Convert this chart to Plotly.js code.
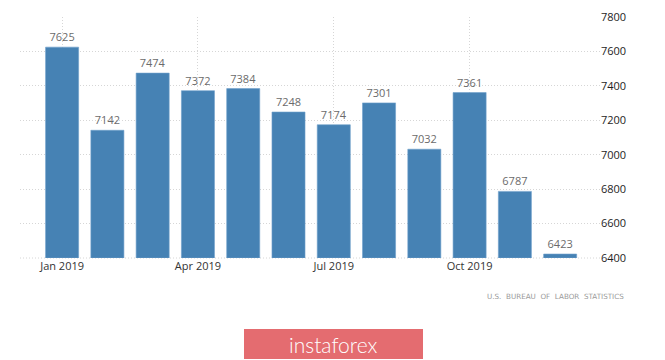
<!DOCTYPE html>
<html>
<head>
<meta charset="utf-8">
<script src="https://cdn.plot.ly/plotly-3.0.1.min.js"></script>
<style>
html,body{margin:0;padding:0;background:#fff;}
#chart{width:665px;height:360px;}
</style>
</head>
<body>
<div id="chart"></div>
<script>
const months = ["Jan 2019","Feb 2019","Mar 2019","Apr 2019","May 2019","Jun 2019","Jul 2019","Aug 2019","Sep 2019","Oct 2019","Nov 2019","Dec 2019"];
const values = [7625, 7142, 7474, 7372, 7384, 7248, 7174, 7301, 7032, 7361, 6787, 6423];
const xTickLabels = ["Jan 2019","Apr 2019","Jul 2019","Oct 2019"];
const yTicks = [6400, 6600, 6800, 7000, 7200, 7400, 7600, 7800];
const sourceText = "U.S.  BUREAU  OF  LABOR  STATISTICS";
const brandText = "instaforex";
const yBase = 6400;

const xIdx = months.map((m, i) => i);
const xTickVals = xTickLabels.map(l => months.indexOf(l));

const trace = {
  type: "bar",
  x: xIdx,
  y: values.map(v => v - yBase),
  base: yBase,
  width: 0.73,
  marker: {color: "#4682b4", line: {color: "#6f9fcb", width: 0.6}},
  text: values.map(String),
  textposition: "outside",
  textfont: {family: "Open Sans, DejaVu Sans, sans-serif", size: 11, color: "#6b6b6b"},
  cliponaxis: false,
  hoverinfo: "none"
};

const layout = {
  width: 665, height: 360,
  margin: {l: 20, r: 65, t: 17, b: 102},
  paper_bgcolor: "#ffffff",
  plot_bgcolor: "#ffffff",
  showlegend: false,
  xaxis: {
    range: [-0.93, 11.88],
    tickvals: xTickVals,
    ticktext: xTickLabels,
    showgrid: true,
    gridcolor: "#d6d6d6",
    griddash: "1px,2px",
    gridwidth: 1,
    zeroline: false,
    showline: false,
    ticks: "",
    tickfont: {family: "Open Sans, DejaVu Sans, sans-serif", size: 11, color: "#333333"},
    fixedrange: true
  },
  yaxis: {
    side: "right",
    range: [6400, 7800],
    tickvals: yTicks,
    ticktext: yTicks.map(String),
    showgrid: true,
    gridcolor: "#d6d6d6",
    griddash: "1px,2px",
    gridwidth: 1,
    zeroline: false,
    showline: false,
    ticks: "",
    tickfont: {family: "Open Sans, DejaVu Sans, sans-serif", size: 11, color: "#1e1e1e"},
    fixedrange: true
  },
  shapes: [
    {type: "line", xref: "paper", yref: "paper", x0: 0, x1: 1, y0: 0, y1: 0,
     line: {color: "#d6d6d6", width: 1, dash: "1px,2px"}, layer: "below"},
    {type: "rect", xref: "paper", yref: "paper",
     x0: (244-20)/580, x1: (423-20)/580, y0: (258-359)/241, y1: (258-329)/241,
     fillcolor: "#e46c70", line: {width: 0}}
  ],
  annotations: [
    {xref: "paper", yref: "paper", x: (626-20)/580, y: (258-296)/241,
     xanchor: "right", yanchor: "middle", showarrow: false,
     text: sourceText,
     font: {family: "DejaVu Sans, sans-serif", size: 7.2, color: "#9a9a9a"}},
    {xref: "paper", yref: "paper", x: (333-20)/580, y: (258-344)/241,
     xanchor: "center", yanchor: "middle", showarrow: false,
     text: brandText,
     font: {family: "Lato, Open Sans, sans-serif", size: 21, color: "#ffffff", weight: 300}}
  ]
};

Plotly.newPlot("chart", [trace], layout, {displayModeBar: false, staticPlot: true});
</script>
</body>
</html>
